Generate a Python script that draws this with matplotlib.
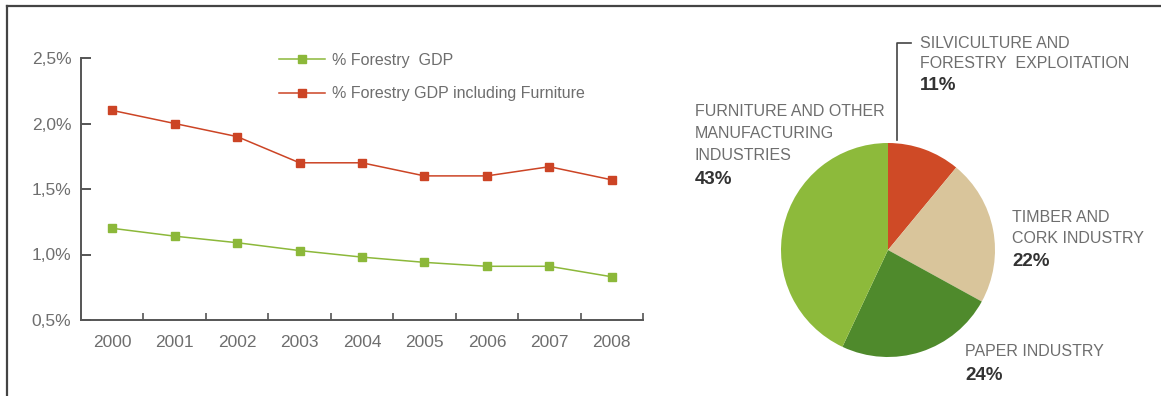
import numpy as np
import matplotlib
matplotlib.use('Agg')
from matplotlib import pyplot as plt
from matplotlib.lines import Line2D

plt.rcParams['font.family'] = ['Liberation Sans', 'DejaVu Sans']

years = ['2000', '2001', '2002', '2003', '2004', '2005', '2006', '2007', '2008']
forestry_gdp = [1.20, 1.14, 1.09, 1.03, 0.98, 0.94, 0.91, 0.91, 0.83]
forestry_gdp_furn = [2.10, 2.00, 1.90, 1.70, 1.70, 1.60, 1.60, 1.67, 1.57]

sectors = [['SILVICULTURE AND', 'FORESTRY  EXPLOITATION'], ['TIMBER AND', 'CORK INDUSTRY'],
           ['PAPER INDUSTRY'], ['FURNITURE AND OTHER', 'MANUFACTURING', 'INDUSTRIES']]
shares = [11, 22, 24, 43]

red = '#cc4425'
green = '#8cb83a'
grey_txt = '#6e6e6e'
pie_cols = ['#cf4a26', '#d9c59b', '#4f8a2c', '#8dba3b']

W, H = 1161, 396
fig = plt.figure(figsize=(W / 100, H / 100), dpi=100)

# frame lines (top and left)
fig.add_artist(Line2D([7 / W, 1], [1 - 6 / H, 1 - 6 / H], color='#444444', lw=1.6))
fig.add_artist(Line2D([7 / W, 7 / W], [0, 1 - 6 / H], color='#444444', lw=1.6))

# ---- line chart
ax = fig.add_axes([81 / W, (H - 320) / H, 562 / W, 262 / H])
x = np.arange(len(years))
ax.plot(x, forestry_gdp, color=green, marker='s', ms=5.5, lw=1.1, label='% Forestry  GDP')
ax.plot(x, forestry_gdp_furn, color=red, marker='s', ms=6, lw=1.1,
        label='% Forestry GDP including Furniture')
ax.set_xlim(-0.5, len(years) - 0.5)
ax.set_ylim(0.5, 2.5)
ax.set_yticks([0.5, 1.0, 1.5, 2.0, 2.5])
ax.set_yticklabels(['0,5%', '1,0%', '1,5%', '2,0%', '2,5%'])
ax.set_xticks(x)
ax.set_xticklabels(years)
ax.set_xticks(np.arange(0.5, len(years), 1), minor=True)
for s in ['top', 'right']:
    ax.spines[s].set_visible(False)
for s in ['left', 'bottom']:
    ax.spines[s].set_color('#555555')
    ax.spines[s].set_linewidth(1.4)
ax.tick_params(axis='y', direction='in', length=7, width=1.4, color='#555555',
               labelsize=12.5, labelcolor=grey_txt, pad=7)
ax.tick_params(axis='x', which='major', length=0, labelsize=12.5, labelcolor=grey_txt, pad=11)
ax.tick_params(axis='x', which='minor', direction='in', length=5, width=1.2, color='#555555')
ax.patch.set_alpha(0)
ax.legend(loc='upper left', bbox_to_anchor=(0.327, 1.075), frameon=False, fontsize=11.5,
          handlelength=2.9, handletextpad=0.4, labelspacing=1.15, labelcolor=grey_txt)

# ---- pie chart
cx, cy, r = 888, 250, 107
pax = fig.add_axes([(cx - r) / W, (H - cy - r) / H, 2 * r / W, 2 * r / H])
pax.pie(shares, colors=pie_cols, startangle=90, counterclock=False, radius=1)
pax.set_xlim(-1, 1)
pax.set_ylim(-1, 1)
pax.set_aspect('auto')


def label_block(px, py_lines, py_pct, lines, pct):
    for py, s in zip(py_lines, lines):
        fig.text(px / W, 1 - py / H, s, fontsize=11.5, color=grey_txt, va='center', ha='left')
    fig.text(px / W, 1 - py_pct / H, '%d%%' % pct, fontsize=13.5, color='#333333',
             va='center', ha='left', weight='bold')


# leader line for silviculture
fig.add_artist(Line2D([897 / W, 897 / W, 911 / W],
                      [1 - 140 / H, 1 - 43 / H, 1 - 43 / H], color='#444444', lw=1.2))

label_block(920, [43, 63], 86, sectors[0], shares[0])
label_block(1012, [217, 239], 262, sectors[1], shares[1])
label_block(965, [352], 376, sectors[2], shares[2])
label_block(695, [112, 133, 155], 179, sectors[3], shares[3])

fig.savefig('out.png', dpi=100)
plt.close()
